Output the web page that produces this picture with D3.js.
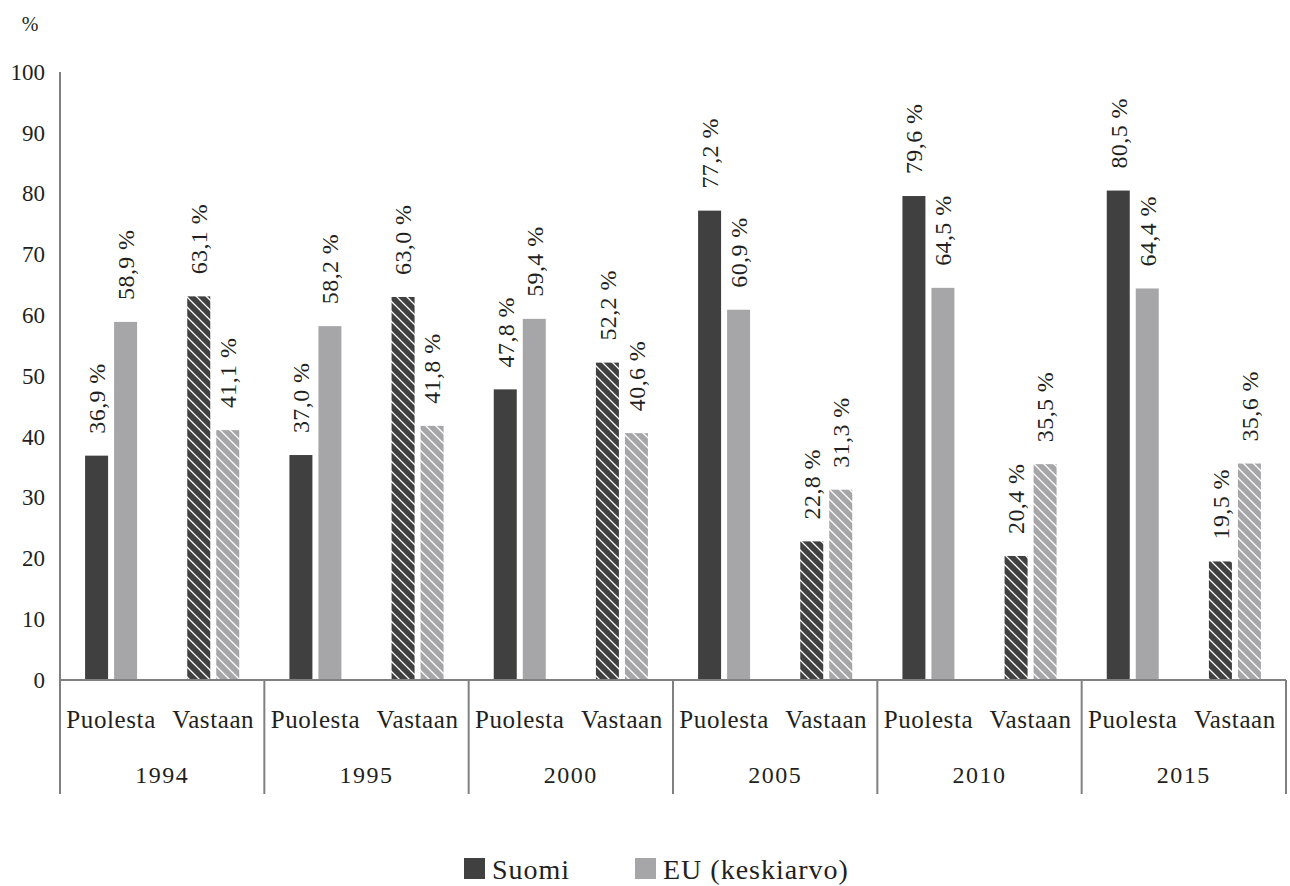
<!DOCTYPE html>
<html>
<head>
<meta charset="utf-8">
<script src="https://cdn.jsdelivr.net/npm/d3@7"></script>
<style>
  html, body { margin: 0; padding: 0; background: #ffffff; }
  svg { display: block; }
</style>
</head>
<body>
<svg id="chart" width="1290" height="886"></svg>
<script>
// Kannatus ja vastustus: Suomi vs. EU-keskiarvo
const years = ["1994", "1995", "2000", "2005", "2010", "2015"];
const stances = ["Puolesta", "Vastaan"];
const seriesNames = ["Suomi", "EU (keskiarvo)"];
const suomiPuolesta = [36.9, 37.0, 47.8, 77.2, 79.6, 80.5];
const suomiVastaan  = [63.1, 63.0, 52.2, 22.8, 20.4, 19.5];
const euPuolesta    = [58.9, 58.2, 59.4, 60.9, 64.5, 64.4];
const euVastaan     = [41.1, 41.8, 40.6, 31.3, 35.5, 35.6];
const yTicks = [0, 10, 20, 30, 40, 50, 60, 70, 80, 90, 100];

const DARK = "#404040", GREY = "#a6a6a9", AXIS = "#808080", INK = "#231f20";
const FONT = '"Liberation Serif", "DejaVu Serif", serif';

const rows = [];
years.forEach((yr, i) => {
  rows.push({ year: yr, stance: "Puolesta", series: "Suomi", value: suomiPuolesta[i] });
  rows.push({ year: yr, stance: "Puolesta", series: "EU (keskiarvo)", value: euPuolesta[i] });
  rows.push({ year: yr, stance: "Vastaan", series: "Suomi", value: suomiVastaan[i] });
  rows.push({ year: yr, stance: "Vastaan", series: "EU (keskiarvo)", value: euVastaan[i] });
});

const svg = d3.select("#chart").attr("font-family", FONT);
const M = { left: 60, right: 1286, top: 72, bottom: 680, axisEnd: 794 };

const y = d3.scaleLinear().domain([0, 100]).range([M.bottom, M.top]);
const x0 = d3.scaleBand().domain(years).range([M.left, M.right]);
const x1 = d3.scaleBand().domain(stances).range([0, x0.bandwidth()]);
const sub = x1.bandwidth();
const x2 = d3.scaleBand().domain(seriesNames)
  .range([sub / 2 - 26, sub / 2 + 26]).paddingInner(0.207).paddingOuter(0);

// hatch patterns for the "Vastaan" bars
const defs = svg.append("defs");
[["hatch-dark", DARK], ["hatch-grey", GREY]].forEach(([id, col]) => {
  const p = defs.append("pattern").attr("id", id)
    .attr("patternUnits", "userSpaceOnUse").attr("width", 10).attr("height", 10);
  p.append("rect").attr("width", 10).attr("height", 10).attr("fill", col);
  p.append("path").attr("d", "M0,0 L10,10 M-5,5 L5,15 M5,-5 L15,5")
    .attr("stroke", "#ffffff").attr("stroke-width", 1.3);
});

function fillFor(d) {
  if (d.stance === "Puolesta") return d.series === "Suomi" ? DARK : GREY;
  return d.series === "Suomi" ? "url(#hatch-dark)" : "url(#hatch-grey)";
}
const barX = d => x0(d.year) + x1(d.stance) + x2(d.series);

// bars
svg.append("g").selectAll("rect").data(rows).join("rect")
  .attr("x", barX)
  .attr("y", d => y(d.value))
  .attr("width", x2.bandwidth())
  .attr("height", d => y(0) - y(d.value))
  .attr("fill", fillFor);

// value labels, rotated
const fmt = v => d3.format(".1f")(v).replace(".", ",") + " %";
svg.append("g").attr("fill", INK).selectAll("text").data(rows).join("text")
  .attr("transform", d => `translate(${barX(d) + x2.bandwidth() / 2},${y(d.value) - 22}) rotate(-90)`)
  .attr("dy", "0.35em")
  .attr("text-anchor", "start")
  .attr("font-size", 24)
  .attr("letter-spacing", 0.4)
  .text(d => fmt(d.value));

// y axis
const yAxis = svg.append("g").attr("transform", `translate(${M.left},0)`)
  .call(d3.axisLeft(y).tickValues(yTicks).tickSize(0).tickPadding(15));
yAxis.attr("font-family", FONT).attr("font-size", 23);
yAxis.select(".domain").remove();
yAxis.selectAll("text").attr("fill", INK);

svg.append("text").attr("x", 30).attr("y", 31).attr("text-anchor", "middle")
  .attr("font-size", 20).attr("fill", INK).text("%");

// axis lines
const axisG = svg.append("g").attr("stroke", AXIS).attr("stroke-width", 2).attr("fill", "none");
axisG.append("line").attr("x1", M.left).attr("x2", M.left).attr("y1", M.top).attr("y2", M.axisEnd);
axisG.append("line").attr("x1", M.left).attr("x2", M.right).attr("y1", M.bottom).attr("y2", M.bottom);
years.forEach(yr => {
  const xe = x0(yr) + x0.bandwidth();
  axisG.append("line").attr("x1", xe).attr("x2", xe).attr("y1", M.bottom).attr("y2", M.axisEnd);
});

// category labels
const catG = svg.append("g").attr("text-anchor", "middle").attr("fill", INK);
years.forEach(yr => {
  stances.forEach(s => {
    catG.append("text").attr("x", x0(yr) + x1(s) + sub / 2).attr("y", 728)
      .attr("font-size", 25).attr("letter-spacing", 0.6).text(s);
  });
  catG.append("text").attr("x", x0(yr) + x0.bandwidth() / 2).attr("y", 783)
    .attr("font-size", 24).attr("letter-spacing", 1.5).text(yr);
});

// legend
const legend = [
  { name: seriesNames[0], color: DARK, x: 464 },
  { name: seriesNames[1], color: GREY, x: 635 }
];
const lg = svg.append("g");
legend.forEach(l => {
  lg.append("rect").attr("x", l.x).attr("y", 858).attr("width", 21).attr("height", 21).attr("fill", l.color);
  lg.append("text").attr("x", l.x + 28).attr("y", 879).attr("font-size", 28).attr("fill", INK)
    .attr("letter-spacing", 1).text(l.name);
});
</script>
</body>
</html>
